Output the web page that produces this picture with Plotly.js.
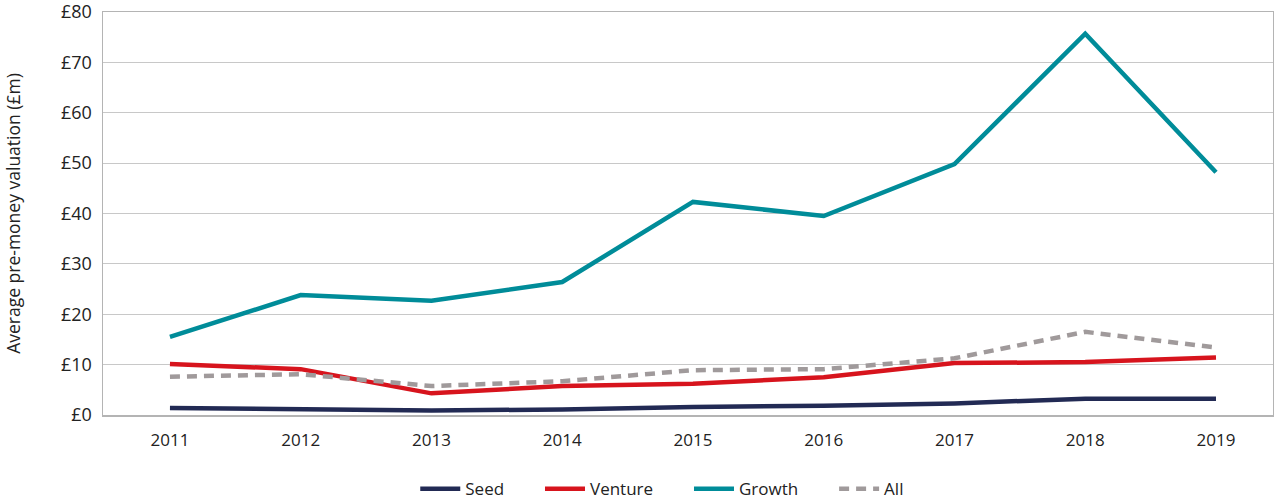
<!DOCTYPE html>
<html>
<head>
<meta charset="utf-8">
<script src="https://cdn.plot.ly/plotly-3.0.1.min.js"></script>
<style>html,body{margin:0;padding:0;background:#fff;}#chart{width:1274px;height:502px;}</style>
</head>
<body>
<div id="chart"></div>
<script>
const years = ['2011','2012','2013','2014','2015','2016','2017','2018','2019'];
const seed = [1.4, 1.2, 0.9, 1.1, 1.6, 1.85, 2.3, 3.25, 3.25];
const venture = [10.1, 9.1, 4.3, 5.75, 6.2, 7.5, 10.3, 10.5, 11.4];
const growth = [15.5, 23.8, 22.7, 26.4, 42.3, 39.5, 49.8, 75.7, 48.2];
const all = [7.6, 8.1, 5.75, 6.7, 8.9, 9.1, 11.25, 16.5, 13.4];
const yTicks = [0, 10, 20, 30, 40, 50, 60, 70, 80];
const yTickText = ['£0','£10','£20','£30','£40','£50','£60','£70','£80'];
const seriesNames = ['Seed', 'Venture', 'Growth', 'All'];

const font = 'Open Sans, Noto Sans, sans-serif';
const pad = '\u00a0\u00a0\u00a0\u00a0\u00a0\u00a0\u00a0';
const traces = [
  {x: years, y: seed, name: seriesNames[0] + pad, mode: 'lines', line: {color: '#222a54', width: 4.5}},
  {x: years, y: venture, name: seriesNames[1] + pad, mode: 'lines', line: {color: '#d7141d', width: 4.5}},
  {x: years, y: growth, name: seriesNames[2] + pad, mode: 'lines', line: {color: '#008c99', width: 4.5}},
  {x: years, y: all, name: seriesNames[3], mode: 'lines', line: {color: '#a09a9b', width: 4.5, dash: '10px,7px'}}
];
const layout = {
  width: 1274, height: 502,
  margin: {l: 103, r: 1, t: 12, b: 87, autoexpand: false},
  paper_bgcolor: '#fff', plot_bgcolor: '#fff',
  font: {family: font, size: 16, color: '#222'},
  showlegend: true,
  legend: {orientation: 'h', x: 0.478, xanchor: 'center', y: -0.184, yanchor: 'middle',
           font: {family: font, size: 17, color: '#222'}, itemwidth: 40, tracegroupgap: 0},
  xaxis: {type: 'category', range: [-0.512, 8.436], showgrid: false, showline: true,
          linecolor: '#b4b4b4', linewidth: 1.5, mirror: true, ticks: '', tickfont: {size: 17},
          ticklabelstandoff: 9, automargin: false, fixedrange: true},
  yaxis: {range: [0, 80.001], tickvals: yTicks, ticktext: yTickText, showgrid: true,
          gridcolor: '#c8c8c8', gridwidth: 1.2, showline: true, linecolor: '#b4b4b4', linewidth: 1.5,
          mirror: true, zeroline: false, ticks: '', tickfont: {size: 18}, ticklabelstandoff: 6,
          ticklabeloverflow: 'allow', automargin: false,
          title: {text: 'Average pre-money valuation (£m)', font: {size: 17.5}, standoff: 36},
          fixedrange: true}
};
Plotly.newPlot('chart', traces, layout, {displayModeBar: false, staticPlot: true});
</script>
</body>
</html>
